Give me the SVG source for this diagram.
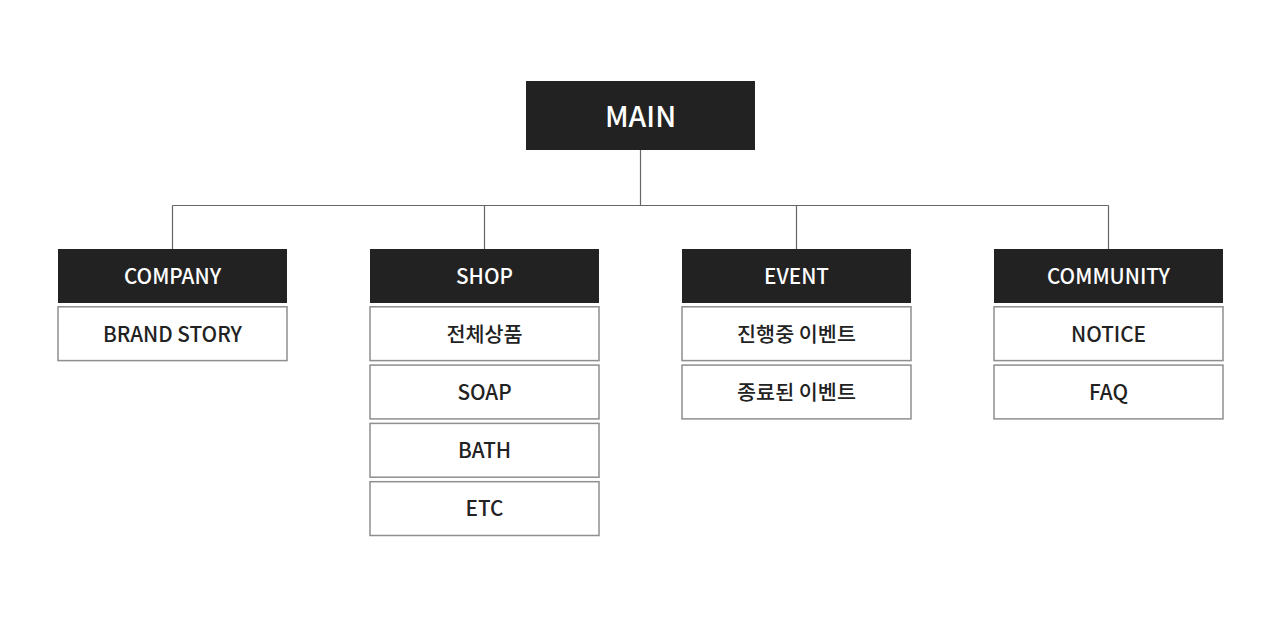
<svg xmlns="http://www.w3.org/2000/svg" width="1280" height="629" viewBox="0 0 1280 629">
<style>
.bg{fill:#ffffff}
.dark{fill:#222222}
.sub{fill:#ffffff;stroke:#8f8f8f;stroke-width:1.5}
.lbl{font-family:"Noto Sans CJK KR","Noto Sans",sans-serif;font-size:20.7px;font-weight:500;text-anchor:middle}
.w{fill:#ffffff}
.k{fill:#222222}
.main{font-size:28.5px}
.conn{stroke:#666666;stroke-width:1.2;fill:none}
</style>
<rect class="bg" x="0" y="0" width="1280" height="629"/>
<g id="connectors">
<path class="conn" d="M640.5 150 V205.5 M172.5 205.5 H1108.5 M172.5 205.5 V249 M484.5 205.5 V249 M796.5 205.5 V249 M1108.5 205.5 V249"/>
</g>
<g id="main">
<rect class="dark" x="526" y="81" width="229" height="69"/>
<text class="lbl w main" x="640.5" y="126.5">MAIN</text>
</g>
<g id="company">
<rect class="dark" x="58" y="249" width="229" height="54"/>
<text class="lbl w" x="172.5" y="283.5">COMPANY</text>
</g>
<g id="company-brand-story">
<rect class="sub" x="58" y="306.8" width="229" height="53.8"/>
<text class="lbl k" x="172.5" y="341.5">BRAND STORY</text>
</g>
<g id="shop">
<rect class="dark" x="370" y="249" width="229" height="54"/>
<text class="lbl w" x="484.5" y="283.5">SHOP</text>
</g>
<g id="shop-all">
<rect class="sub" x="370" y="306.8" width="229" height="53.8"/>
<text class="lbl k" x="484.5" y="341.5">전체상품</text>
</g>
<g id="shop-soap">
<rect class="sub" x="370" y="365.1" width="229" height="53.8"/>
<text class="lbl k" x="484.5" y="399.8">SOAP</text>
</g>
<g id="shop-bath">
<rect class="sub" x="370" y="423.4" width="229" height="53.8"/>
<text class="lbl k" x="484.5" y="458.1">BATH</text>
</g>
<g id="shop-etc">
<rect class="sub" x="370" y="481.7" width="229" height="53.8"/>
<text class="lbl k" x="484.5" y="516.4">ETC</text>
</g>
<g id="event">
<rect class="dark" x="682" y="249" width="229" height="54"/>
<text class="lbl w" x="796.5" y="283.5">EVENT</text>
</g>
<g id="event-ongoing">
<rect class="sub" x="682" y="306.8" width="229" height="53.8"/>
<text class="lbl k" x="796.5" y="341.5">진행중 이벤트</text>
</g>
<g id="event-ended">
<rect class="sub" x="682" y="365.1" width="229" height="53.8"/>
<text class="lbl k" x="796.5" y="399.8">종료된 이벤트</text>
</g>
<g id="community">
<rect class="dark" x="994" y="249" width="229" height="54"/>
<text class="lbl w" x="1108.5" y="283.5">COMMUNITY</text>
</g>
<g id="community-notice">
<rect class="sub" x="994" y="306.8" width="229" height="53.8"/>
<text class="lbl k" x="1108.5" y="341.5">NOTICE</text>
</g>
<g id="community-faq">
<rect class="sub" x="994" y="365.1" width="229" height="53.8"/>
<text class="lbl k" x="1108.5" y="399.8">FAQ</text>
</g>
</svg>
